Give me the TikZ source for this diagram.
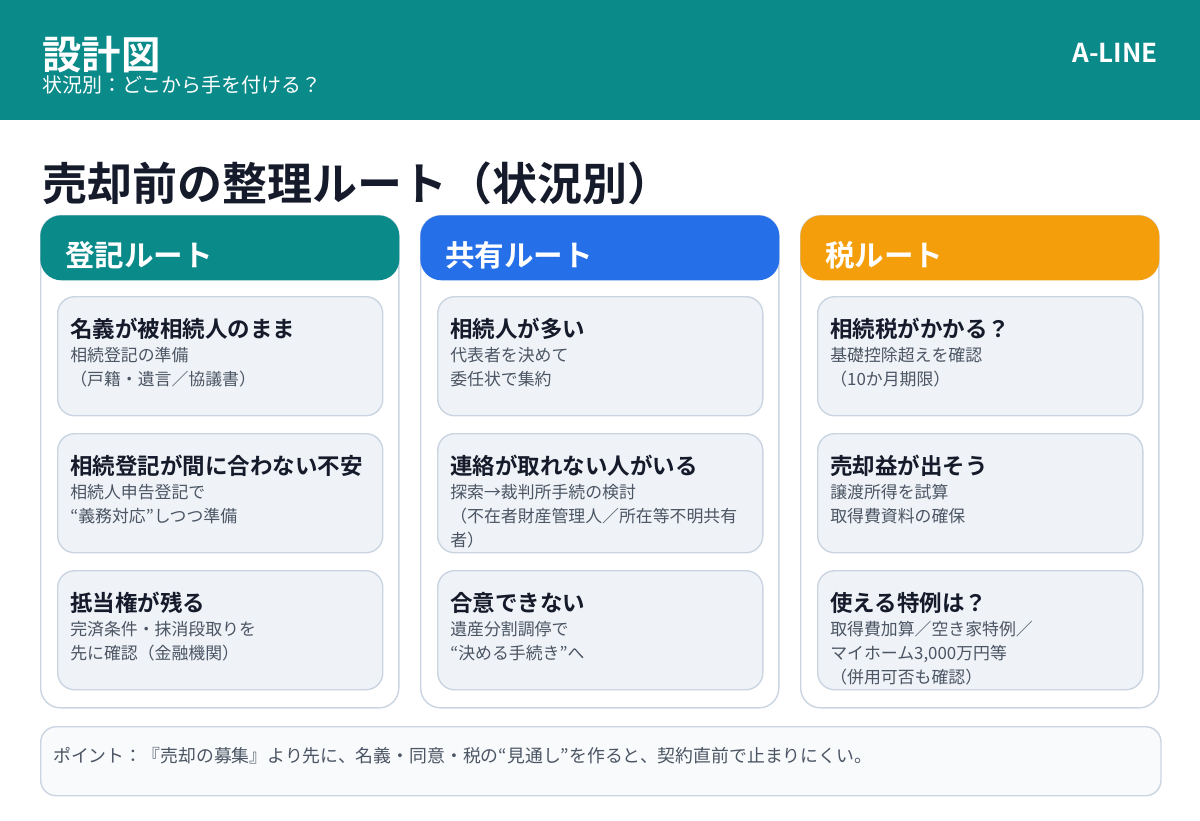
\documentclass[tikz,border=0pt]{standalone}
\usepackage{fontspec}
\setmainfont{Noto Sans CJK JP}[BoldFont={Noto Sans CJK JP Bold}]

\definecolor{headteal}{HTML}{0B8A8A}
\definecolor{routeblue}{HTML}{2570E8}
\definecolor{routeorange}{HTML}{F59E0B}
\definecolor{cardfill}{HTML}{EFF3F8}
\definecolor{cardline}{HTML}{CBD5E1}
\definecolor{inktext}{HTML}{151B2B}
\definecolor{subtext}{HTML}{4B5563}
\definecolor{notefill}{HTML}{F8FAFC}

\tikzset{
  routebox/.style={draw=cardline, line width=1pt, fill=white, rounded corners=14pt,
    anchor=north west, inner sep=0pt, minimum width=8.95cm, minimum height=12.3cm},
  routetab/.style={rounded corners=15pt, anchor=north west, inner sep=0pt,
    minimum width=8.975cm, minimum height=1.625cm},
  tabtext/.style={anchor=base west, inner sep=0pt, text=white, font=\fontsize{21}{25}\selectfont\bfseries},
  card/.style={draw=cardline, line width=1pt, fill=cardfill, rounded corners=12pt,
    anchor=north west, inner sep=0pt, minimum width=8.125cm, minimum height=2.975cm},
  cardtitle/.style={anchor=base west, inner sep=0pt, text=inktext, font=\fontsize{16}{20}\selectfont\bfseries},
  cardbody/.style={anchor=north west, inner sep=0pt, align=left, text=subtext, font=\fontsize{12}{17}\selectfont}
}

\begin{document}
\begin{tikzpicture}[x=0.025cm, y=-0.025cm]
\useasboundingbox (0,0) rectangle (1200,820);

% HEADER BAR
\fill[headteal] (0,0) rectangle (1200,120);
\node[anchor=base west, inner sep=0pt, text=white, font=\fontsize{28}{32}\selectfont\bfseries] (doctitle) at (42,70) {設計図};
\node[anchor=base west, inner sep=0pt, text=white, font=\fontsize{14.2}{17}\selectfont] (docsub) at (42,93) {状況別：どこから手を付ける？};
\node[anchor=base east, inner sep=0pt, text=white, font=\fontsize{18.5}{22}\selectfont\bfseries] (brand) at (1158,63) {A-LINE};

% Main title
\node[anchor=base west, inner sep=0pt, text=inktext, font=\fontsize{32}{37}\selectfont\bfseries] (maintitle) at (42,200) {売却前の整理ルート（状況別）};

% LEFT COLUMN: registration
\node[routebox] (regbox) at (40,215) {};
\node[routetab, fill=headteal] (regtab) at (40,215) {};
\node[tabtext] (regname) at (65,266) {登記ルート};

\node[card] (reg1) at (57,296) {};
\node[cardtitle] (reg1t) at (70,337) {名義が被相続人のまま};
\node[cardbody] (reg1b) at (70,347) {相続登記の準備\\（戸籍・遺言／協議書）};

\node[card] (reg2) at (57,433) {};
\node[cardtitle] (reg2t) at (70,474) {相続登記が間に合わない不安};
\node[cardbody] (reg2b) at (70,484) {相続人申告登記で\\“義務対応”しつつ準備};

\node[card] (reg3) at (57,570) {};
\node[cardtitle] (reg3t) at (70,611) {抵当権が残る};
\node[cardbody] (reg3b) at (70,621) {完済条件・抹消段取りを\\先に確認（金融機関）};

% MIDDLE COLUMN: co-ownership
\node[routebox] (coobox) at (420,215) {};
\node[routetab, fill=routeblue] (cootab) at (420,215) {};
\node[tabtext] (cooname) at (445,266) {共有ルート};

\node[card] (coo1) at (437,296) {};
\node[cardtitle] (coo1t) at (450,337) {相続人が多い};
\node[cardbody] (coo1b) at (450,347) {代表者を決めて\\委任状で集約};

\node[card] (coo2) at (437,433) {};
\node[cardtitle] (coo2t) at (450,474) {連絡が取れない人がいる};
\node[cardbody] (coo2b) at (450,484) {探索→裁判所手続の検討\\（不在者財産管理人／所在等不明共有\\者）};

\node[card] (coo3) at (437,570) {};
\node[cardtitle] (coo3t) at (450,611) {合意できない};
\node[cardbody] (coo3b) at (450,621) {遺産分割調停で\\“決める手続き”へ};

% RIGHT COLUMN: tax
\node[routebox] (taxbox) at (800,215) {};
\node[routetab, fill=routeorange] (taxtab) at (800,215) {};
\node[tabtext] (taxname) at (825,266) {税ルート};

\node[card] (tax1) at (817,296) {};
\node[cardtitle] (tax1t) at (830,337) {相続税がかかる？};
\node[cardbody] (tax1b) at (830,347) {基礎控除超えを確認\\（10か月期限）};

\node[card] (tax2) at (817,433) {};
\node[cardtitle] (tax2t) at (830,474) {売却益が出そう};
\node[cardbody] (tax2b) at (830,484) {譲渡所得を試算\\取得費資料の確保};

\node[card] (tax3) at (817,570) {};
\node[cardtitle] (tax3t) at (830,611) {使える特例は？};
\node[cardbody] (tax3b) at (830,621) {取得費加算／空き家特例／\\マイホーム3,000万円等\\（併用可否も確認）};

% Point note
\node[draw=cardline, line width=1pt, fill=notefill, rounded corners=11pt, anchor=north west,
  inner sep=0pt, minimum width=28cm, minimum height=1.725cm] (notebox) at (40,726) {};
\node[anchor=base west, inner sep=0pt, text=subtext, font=\fontsize{12.7}{15}\selectfont] (notetext) at (53,762)
  {ポイント：『売却の募集』より先に、名義・同意・税の“見通し”を作ると、契約直前で止まりにくい。};

\end{tikzpicture}
\end{document}
